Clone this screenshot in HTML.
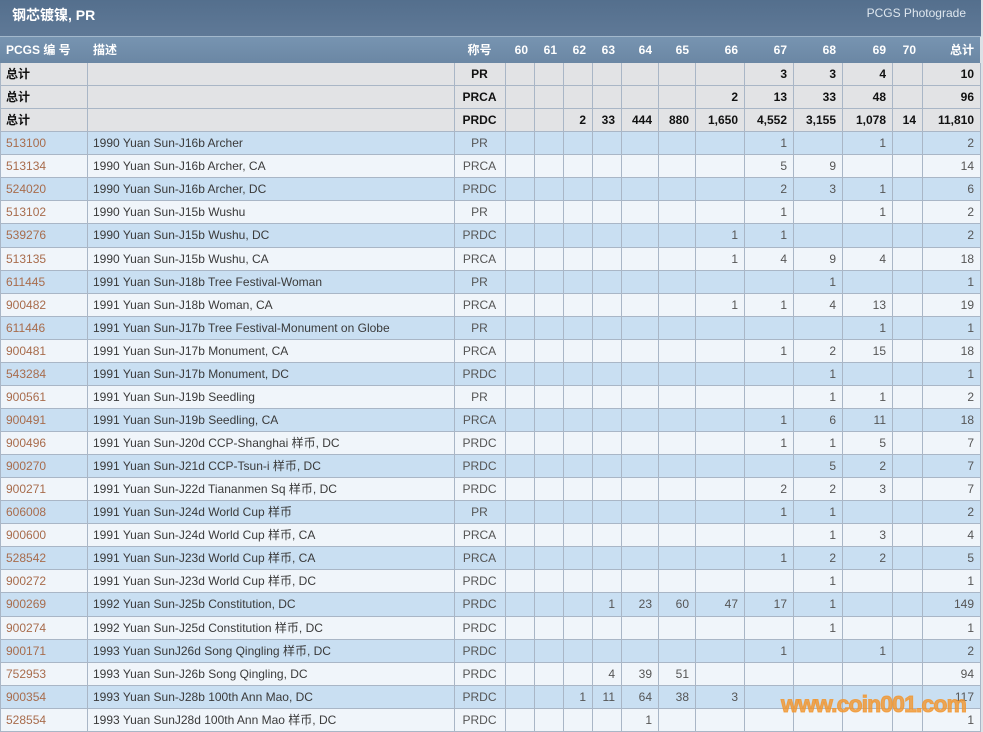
<!DOCTYPE html>
<html><head><meta charset="utf-8">
<style>
html,body{margin:0;padding:0}
body{width:983px;height:732px;overflow:hidden;background:#dde1e6;font-family:"Liberation Sans","Noto Sans CJK SC",sans-serif;position:relative}
.title{position:absolute;left:0;top:0;width:981px;height:36px;background:linear-gradient(#546f8d,#5f7997);border-bottom:1px solid #a3b8cc}
.title .t{position:absolute;left:12px;top:6px;font-size:14px;line-height:18px;font-weight:bold;color:#fff}
.title .p{position:absolute;right:15px;top:5px;font-size:12px;line-height:16px;color:#dfe7ef}
.cols{display:grid;grid-template-columns:87px 367px 51px 29px 29px 29px 29px 37px 37px 49px 49px 49px 50px 30px 58px}
.hdr{position:absolute;left:0;top:37px;width:980px;height:26px;background:linear-gradient(#7794b1,#6b87a4);color:#fff;font-weight:bold;font-size:12px;line-height:26px}
.tb{position:absolute;left:0;top:63px;width:980px}
.r{height:23.07px;box-sizing:border-box;border-bottom:1px solid #a9b6c6;font-size:12px;line-height:22px;color:#555}
.cols>*{grid-row:1;white-space:nowrap;overflow:hidden;font-style:normal}
.g{background:#e2e3e5;color:#111;font-weight:bold}
.b{background:#c9dff2}
.w{background:#f0f5fa}
.c0{grid-column:1;padding-left:6px;color:#a86c4c}
.g .c0{color:#111}
.hdr .c0{color:#fff}
.c1{grid-column:2;padding-left:6px;color:#3a3a3a}
.hdr .c1{color:#fff}
.c2{grid-column:3;text-align:center}
.n{text-align:right;padding-right:6px}
.k3{grid-column:4}.k4{grid-column:5}.k5{grid-column:6}.k6{grid-column:7}.k7{grid-column:8}.k8{grid-column:9}.k9{grid-column:10}.k10{grid-column:11}.k11{grid-column:12}.k12{grid-column:13}.k13{grid-column:14}.k14{grid-column:15}
.v{position:absolute;top:63px;height:669px;width:1px;background:#a9b6c6}
.wm{position:absolute;left:781px;top:693px;font-size:23px;line-height:23px;font-weight:bold;letter-spacing:-0.9px;color:rgba(241,150,48,0.8);-webkit-text-stroke:1px rgba(241,150,48,0.8);white-space:nowrap}
</style></head><body>
<div class="title"><div class="t">钢芯镀镍, PR</div><div class="p">PCGS Photograde</div></div>
<div class="hdr cols"><i class="c0">PCGS 编 号</i><i class="c1">描述</i><i class="c2">称号</i><i class="n k3">60</i><i class="n k4">61</i><i class="n k5">62</i><i class="n k6">63</i><i class="n k7">64</i><i class="n k8">65</i><i class="n k9">66</i><i class="n k10">67</i><i class="n k11">68</i><i class="n k12">69</i><i class="n k13">70</i><i class="n k14">总计</i></div>
<div class="tb">
<div class="r cols g"><i class="c0">总计</i><i class="c2">PR</i><i class="n k10">3</i><i class="n k11">3</i><i class="n k12">4</i><i class="n k14">10</i></div>
<div class="r cols g"><i class="c0">总计</i><i class="c2">PRCA</i><i class="n k9">2</i><i class="n k10">13</i><i class="n k11">33</i><i class="n k12">48</i><i class="n k14">96</i></div>
<div class="r cols g"><i class="c0">总计</i><i class="c2">PRDC</i><i class="n k5">2</i><i class="n k6">33</i><i class="n k7">444</i><i class="n k8">880</i><i class="n k9">1,650</i><i class="n k10">4,552</i><i class="n k11">3,155</i><i class="n k12">1,078</i><i class="n k13">14</i><i class="n k14">11,810</i></div>
<div class="r cols b"><i class="c0">513100</i><i class="c1">1990 Yuan Sun-J16b Archer</i><i class="c2">PR</i><i class="n k10">1</i><i class="n k12">1</i><i class="n k14">2</i></div>
<div class="r cols w"><i class="c0">513134</i><i class="c1">1990 Yuan Sun-J16b Archer, CA</i><i class="c2">PRCA</i><i class="n k10">5</i><i class="n k11">9</i><i class="n k14">14</i></div>
<div class="r cols b"><i class="c0">524020</i><i class="c1">1990 Yuan Sun-J16b Archer, DC</i><i class="c2">PRDC</i><i class="n k10">2</i><i class="n k11">3</i><i class="n k12">1</i><i class="n k14">6</i></div>
<div class="r cols w"><i class="c0">513102</i><i class="c1">1990 Yuan Sun-J15b Wushu</i><i class="c2">PR</i><i class="n k10">1</i><i class="n k12">1</i><i class="n k14">2</i></div>
<div class="r cols b"><i class="c0">539276</i><i class="c1">1990 Yuan Sun-J15b Wushu, DC</i><i class="c2">PRDC</i><i class="n k9">1</i><i class="n k10">1</i><i class="n k14">2</i></div>
<div class="r cols w"><i class="c0">513135</i><i class="c1">1990 Yuan Sun-J15b Wushu, CA</i><i class="c2">PRCA</i><i class="n k9">1</i><i class="n k10">4</i><i class="n k11">9</i><i class="n k12">4</i><i class="n k14">18</i></div>
<div class="r cols b"><i class="c0">611445</i><i class="c1">1991 Yuan Sun-J18b Tree Festival-Woman</i><i class="c2">PR</i><i class="n k11">1</i><i class="n k14">1</i></div>
<div class="r cols w"><i class="c0">900482</i><i class="c1">1991 Yuan Sun-J18b Woman, CA</i><i class="c2">PRCA</i><i class="n k9">1</i><i class="n k10">1</i><i class="n k11">4</i><i class="n k12">13</i><i class="n k14">19</i></div>
<div class="r cols b"><i class="c0">611446</i><i class="c1">1991 Yuan Sun-J17b Tree Festival-Monument on Globe</i><i class="c2">PR</i><i class="n k12">1</i><i class="n k14">1</i></div>
<div class="r cols w"><i class="c0">900481</i><i class="c1">1991 Yuan Sun-J17b Monument, CA</i><i class="c2">PRCA</i><i class="n k10">1</i><i class="n k11">2</i><i class="n k12">15</i><i class="n k14">18</i></div>
<div class="r cols b"><i class="c0">543284</i><i class="c1">1991 Yuan Sun-J17b Monument, DC</i><i class="c2">PRDC</i><i class="n k11">1</i><i class="n k14">1</i></div>
<div class="r cols w"><i class="c0">900561</i><i class="c1">1991 Yuan Sun-J19b Seedling</i><i class="c2">PR</i><i class="n k11">1</i><i class="n k12">1</i><i class="n k14">2</i></div>
<div class="r cols b"><i class="c0">900491</i><i class="c1">1991 Yuan Sun-J19b Seedling, CA</i><i class="c2">PRCA</i><i class="n k10">1</i><i class="n k11">6</i><i class="n k12">11</i><i class="n k14">18</i></div>
<div class="r cols w"><i class="c0">900496</i><i class="c1">1991 Yuan Sun-J20d CCP-Shanghai 样币, DC</i><i class="c2">PRDC</i><i class="n k10">1</i><i class="n k11">1</i><i class="n k12">5</i><i class="n k14">7</i></div>
<div class="r cols b"><i class="c0">900270</i><i class="c1">1991 Yuan Sun-J21d CCP-Tsun-i 样币, DC</i><i class="c2">PRDC</i><i class="n k11">5</i><i class="n k12">2</i><i class="n k14">7</i></div>
<div class="r cols w"><i class="c0">900271</i><i class="c1">1991 Yuan Sun-J22d Tiananmen Sq 样币, DC</i><i class="c2">PRDC</i><i class="n k10">2</i><i class="n k11">2</i><i class="n k12">3</i><i class="n k14">7</i></div>
<div class="r cols b"><i class="c0">606008</i><i class="c1">1991 Yuan Sun-J24d World Cup 样币</i><i class="c2">PR</i><i class="n k10">1</i><i class="n k11">1</i><i class="n k14">2</i></div>
<div class="r cols w"><i class="c0">900600</i><i class="c1">1991 Yuan Sun-J24d World Cup 样币, CA</i><i class="c2">PRCA</i><i class="n k11">1</i><i class="n k12">3</i><i class="n k14">4</i></div>
<div class="r cols b"><i class="c0">528542</i><i class="c1">1991 Yuan Sun-J23d World Cup 样币, CA</i><i class="c2">PRCA</i><i class="n k10">1</i><i class="n k11">2</i><i class="n k12">2</i><i class="n k14">5</i></div>
<div class="r cols w"><i class="c0">900272</i><i class="c1">1991 Yuan Sun-J23d World Cup 样币, DC</i><i class="c2">PRDC</i><i class="n k11">1</i><i class="n k14">1</i></div>
<div class="r cols b"><i class="c0">900269</i><i class="c1">1992 Yuan Sun-J25b Constitution, DC</i><i class="c2">PRDC</i><i class="n k6">1</i><i class="n k7">23</i><i class="n k8">60</i><i class="n k9">47</i><i class="n k10">17</i><i class="n k11">1</i><i class="n k14">149</i></div>
<div class="r cols w"><i class="c0">900274</i><i class="c1">1992 Yuan Sun-J25d Constitution 样币, DC</i><i class="c2">PRDC</i><i class="n k11">1</i><i class="n k14">1</i></div>
<div class="r cols b"><i class="c0">900171</i><i class="c1">1993 Yuan SunJ26d Song Qingling 样币, DC</i><i class="c2">PRDC</i><i class="n k10">1</i><i class="n k12">1</i><i class="n k14">2</i></div>
<div class="r cols w"><i class="c0">752953</i><i class="c1">1993 Yuan Sun-J26b Song Qingling, DC</i><i class="c2">PRDC</i><i class="n k6">4</i><i class="n k7">39</i><i class="n k8">51</i><i class="n k14">94</i></div>
<div class="r cols b"><i class="c0">900354</i><i class="c1">1993 Yuan Sun-J28b 100th Ann Mao, DC</i><i class="c2">PRDC</i><i class="n k5">1</i><i class="n k6">11</i><i class="n k7">64</i><i class="n k8">38</i><i class="n k9">3</i><i class="n k14">117</i></div>
<div class="r cols w"><i class="c0">528554</i><i class="c1">1993 Yuan SunJ28d 100th Ann Mao 样币, DC</i><i class="c2">PRDC</i><i class="n k7">1</i><i class="n k14">1</i></div>
</div>
<div class="v" style="left:0"></div>
<div class="v" style="left:87px"></div>
<div class="v" style="left:454px"></div>
<div class="v" style="left:505px"></div>
<div class="v" style="left:534px"></div>
<div class="v" style="left:563px"></div>
<div class="v" style="left:592px"></div>
<div class="v" style="left:621px"></div>
<div class="v" style="left:658px"></div>
<div class="v" style="left:695px"></div>
<div class="v" style="left:744px"></div>
<div class="v" style="left:793px"></div>
<div class="v" style="left:842px"></div>
<div class="v" style="left:892px"></div>
<div class="v" style="left:922px"></div>
<div class="v" style="left:980px"></div>
<div class="wm">www.coin001.com</div>
</body></html>
